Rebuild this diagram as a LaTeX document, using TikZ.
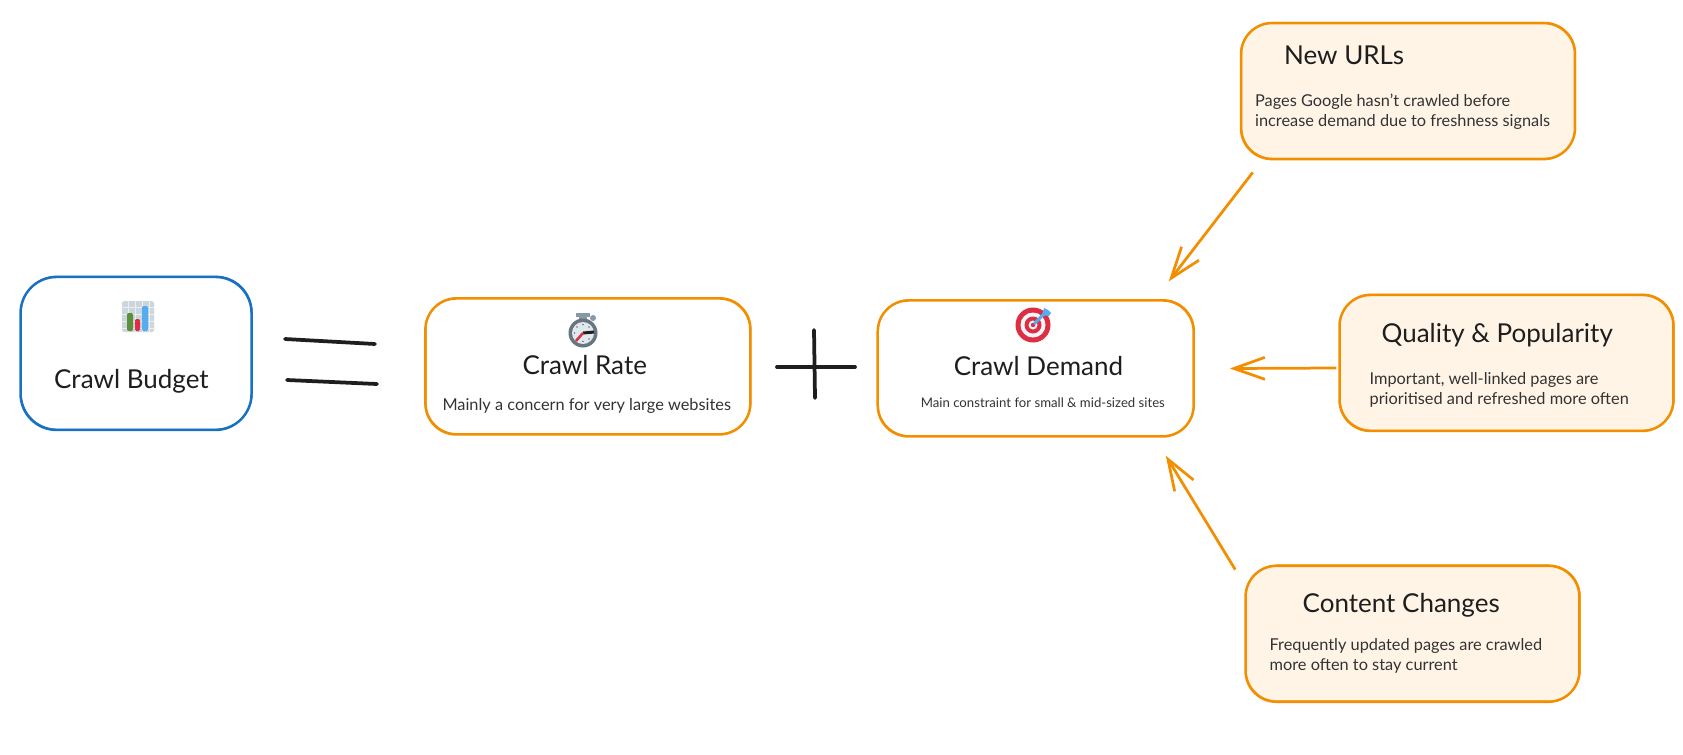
\documentclass[tikz,border=0pt]{standalone}
\usepackage{fontspec}
\setmainfont{Lato}
\usetikzlibrary{positioning, arrows.meta}

\definecolor{inkblack}{HTML}{1E1E1E}
\definecolor{subgray}{HTML}{333333}
\definecolor{sketchorange}{HTML}{F28E00}
\definecolor{sketchblue}{HTML}{1971C2}
\definecolor{cardfill}{HTML}{FFF4E6}
\definecolor{iconsteel}{HTML}{CCD6DD}
\definecolor{icongray}{HTML}{66757F}
\definecolor{iconslate}{HTML}{8899A6}
\definecolor{iconface}{HTML}{E1E8ED}
\definecolor{icongreen}{HTML}{5C913B}
\definecolor{iconred}{HTML}{DD2E44}
\definecolor{iconblue}{HTML}{55ACEE}

\begin{document}
\begin{tikzpicture}[
    x=0.02cm, y=-0.02cm,
    sketch/.style={line width=0.048cm, postaction={draw, line width=0.034cm, transform canvas={xshift=0.25pt, yshift=0.3pt}}},
    mainbox/.style={draw=sketchorange, fill=white, sketch, rounded corners=0.62cm, minimum width=6.5cm, minimum height=2.72cm, inner sep=0pt},
    cardbox/.style={mainbox, fill=cardfill, minimum width=6.68cm},
    head/.style={font=\fontsize{14.8}{18}\selectfont, text=inkblack, anchor=base west, inner sep=0pt},
    sub/.style={font=\fontsize{9.3}{11.4}\selectfont, text=subgray, anchor=base west, inner sep=0pt, align=left},
    subsmall/.style={sub, font=\fontsize{7.5}{9}\selectfont},
    arr/.style={-{Straight Barb[length=0.62cm, width=0.44cm]}, line width=0.055cm, draw=sketchorange},
    inkline/.style={line width=0.075cm, draw=inkblack, line cap=round},
]
\useasboundingbox (0,0) rectangle (1683,754);

% Main row: budget = rate + demand
\node[mainbox, draw=sketchblue, rounded corners=0.72cm, minimum width=4.62cm, minimum height=3.06cm] (budget) at (136,353.5) {};
\node[mainbox, right=3.43cm of budget, yshift=-0.26cm] (rate) {};
\node[mainbox, right=2.5cm of rate, yshift=-0.04cm, minimum width=6.32cm] (demand) {};

% Cards around demand
\node[cardbox, above right=2.78cm and 0.9cm of demand] (newurls) {};
\node[cardbox, right=2.87cm of demand, yshift=0.11cm] (quality) {};
\node[cardbox, below right=2.54cm and 0.99cm of demand] (content) {};

% Main row texts
\node[head] (budget-title) at ([shift={(34.5,113)}]budget.north west) {Crawl Budget};
\node[head] (rate-title) at ([shift={(98,77)}]rate.north west) {Crawl Rate};
\node[sub] (rate-text) at ([shift={(18,113)}]rate.north west) {Mainly a concern for very large websites};
\node[head] (demand-title) at ([shift={(77,76)}]demand.north west) {Crawl Demand};
\node[subsmall] (demand-text) at ([shift={(44,108)}]demand.north west) {Main constraint for small \& mid-sized sites};

% Card texts
\node[head] (newurls-title) at ([shift={(44,43)}]newurls.north west) {New URLs};
\node[sub] (newurls-text) at ([shift={(15,104.5)}]newurls.north west) {Pages Google hasn't crawled before\\increase demand due to freshness signals};
\node[head] (quality-title) at ([shift={(43,49)}]quality.north west) {Quality \& Popularity};
\node[sub] (quality-text) at ([shift={(31,110.5)}]quality.north west) {Important, well-linked pages are\\prioritised and refreshed more often};
\node[head] (content-title) at ([shift={(58,47.5)}]content.north west) {Content Changes};
\node[sub] (content-text) at ([shift={(25,106)}]content.north west) {Frequently updated pages are crawled\\more often to stay current};

% Arrows into demand
\draw[arr] ([shift={(13,12)}]newurls.south west) -- ([shift={(-26,-18)}]demand.north east);
\draw[arr] ([shift={(-2,5)}]quality.west) -- ([shift={(35,0)}]demand.east);
\draw[arr] ([shift={(-9,5)}]content.north west) -- ([shift={(-29,18)}]demand.south east);

% Equals and plus
\draw[inkline] (285,339) -- (375,344);
\draw[inkline] (287,380) -- (377,384);
\draw[inkline] (777,367) -- (855,367);
\draw[inkline] (814,330) -- (815,398);

% Icon: bar chart
\fill[iconsteel, rounded corners=1pt] (122,301) rectangle (154,332);
\foreach \gx in {128,135,142,149} \draw[white!60!iconsteel, line width=0.2pt] (\gx,301) -- (\gx,332);
\foreach \gy in {307,314,321,328} \draw[white!60!iconsteel, line width=0.2pt] (122,\gy) -- (154,\gy);
\fill[icongreen, rounded corners=0.8pt] (127,313) rectangle (133,331);
\fill[iconred, rounded corners=0.8pt] (135,319) rectangle (140,331);
\fill[iconblue, rounded corners=0.8pt] (142,306) rectangle (148,331);

% Icon: stopwatch
\fill[iconslate] (579,315) rectangle (587,320);
\fill[iconslate] (576,313) rectangle (590,316.5);
\fill[iconslate] (593,318) circle (3);
\fill[icongray] (583,333) circle (14.5);
\fill[iconface] (583,333) circle (11);
\foreach \a in {0,45,...,315} \fill[icongray] ([shift={(\a:8.5)}]583,333) circle (0.9);
\draw[inkblack, line width=0.06cm] (583,333) -- (594,332);
\draw[iconred, line width=0.05cm] (576,341) -- (583,333);

% Icon: target
\fill[iconred] (1033,325) circle (17.5);
\fill[iconface!40!white] (1033,325) circle (12.5);
\fill[iconred] (1033,325) circle (8.5);
\fill[iconface!40!white] (1033,325) circle (4.5);
\fill[iconred] (1033,325) circle (2.2);
\draw[iconblue, line width=0.06cm] (1034,324) -- (1045,313);
\fill[iconblue] (1042,315) -- (1044,308) -- (1048,310) -- (1051,313) -- (1049,316) -- cycle;

\end{tikzpicture}
\end{document}
